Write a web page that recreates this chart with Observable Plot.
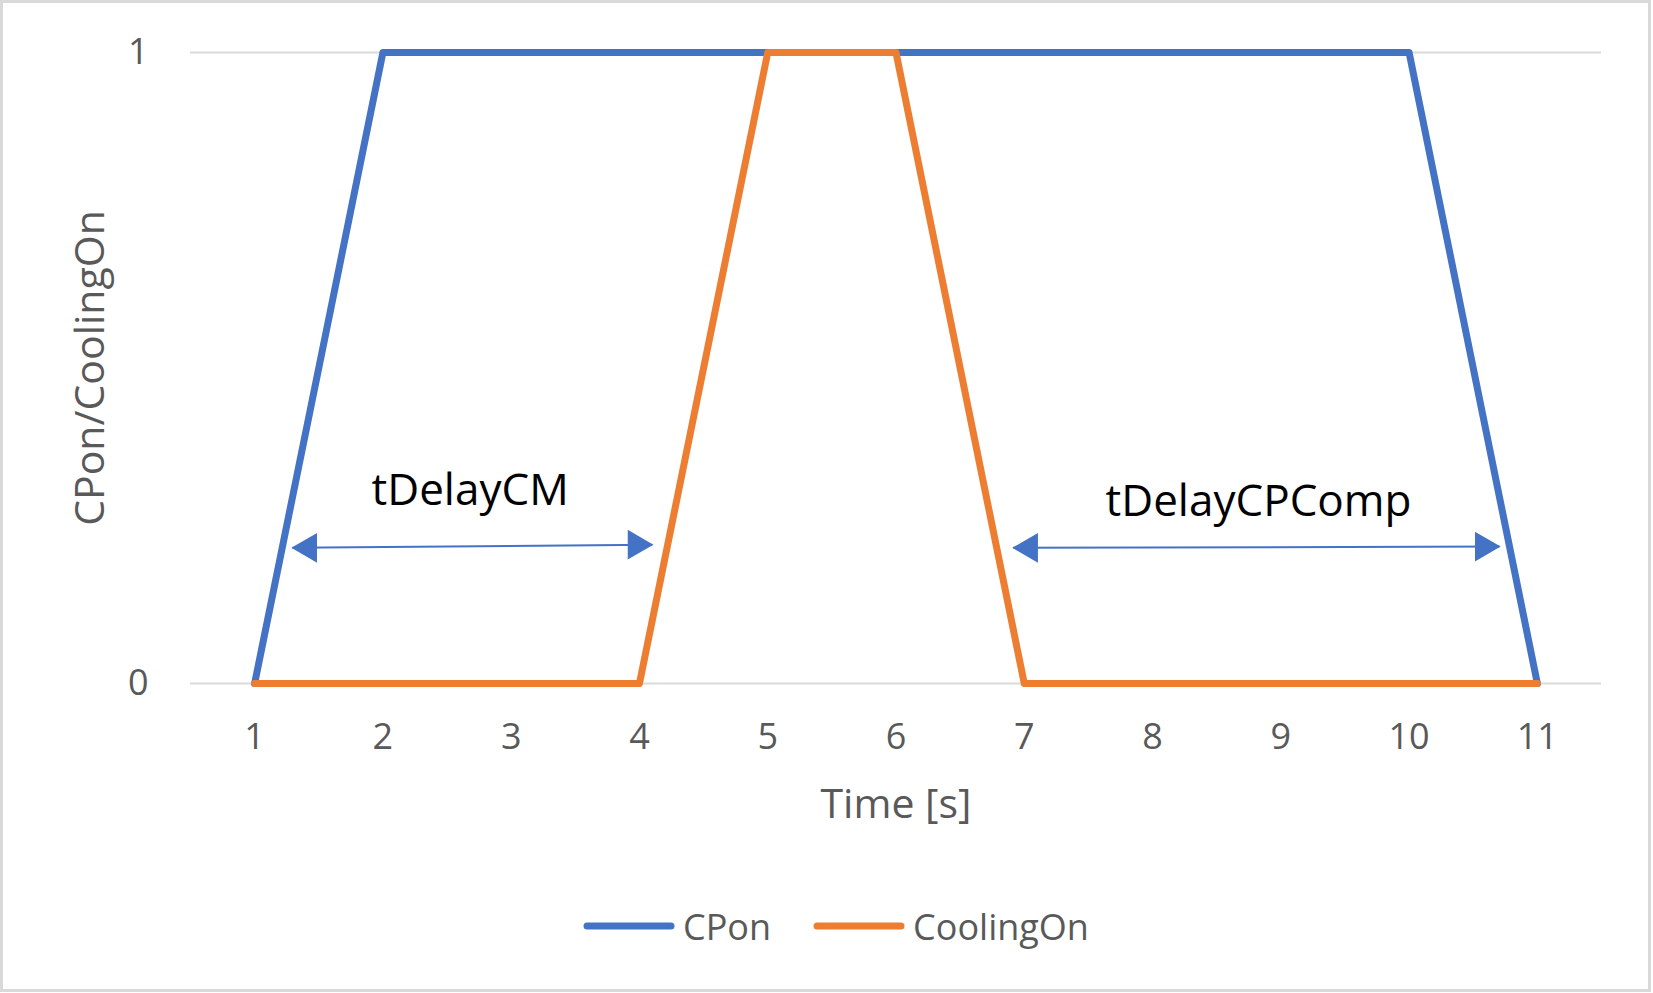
<!DOCTYPE html>
<html><head><meta charset="utf-8">
<script src="https://cdn.jsdelivr.net/npm/d3@7"></script>
<script src="https://cdn.jsdelivr.net/npm/@observablehq/plot@0.6"></script>
<style>
html,body{margin:0;padding:0;background:#fff;}
#wrap{position:relative;width:1651px;height:992px;box-sizing:border-box;border:3px solid #d9d9d9;background:#fff;font-family:"Open Sans",sans-serif;overflow:hidden;}
#legend{position:absolute;left:580px;top:898px;height:50px;display:flex;align-items:center;font-size:36px;color:#595959;white-space:nowrap;}
.item{display:flex;align-items:center;}
.item svg{margin-right:8px;}
.item + .item{margin-left:42px;}
</style></head>
<body>
<div id="wrap"><div id="chart"></div><div id="legend"></div></div>
<script>
// ---- data ----
const times = [1, 2, 3, 4, 5, 6, 7, 8, 9, 10, 11];
const cpon = [0, 1, 1, 1, 1, 1, 1, 1, 1, 1, 0];
const coolingOn = [0, 0, 0, 0, 1, 1, 0, 0, 0, 0, 0];
const seriesNames = ["CPon", "CoolingOn"];
const seriesColors = ["#4472C4", "#ED7D31"];
const xTicks = [1, 2, 3, 4, 5, 6, 7, 8, 9, 10, 11];
const yTicks = [0, 1];
const xTitle = "Time [s]";
const yTitle = "CPon/CoolingOn";
// annotation arrows (data units)
const arrowX1 = [1.295, 6.915];
const arrowY1 = [0.215, 0.215];
const arrowX2 = [4.10, 10.705];
const arrowY2 = [0.220, 0.217];
const annoText = ["tDelayCM", "tDelayCPComp"];
const annoX = [2.68, 8.826];
const annoY = [0.305, 0.287];

const lineData = [];
times.forEach((t, i) => lineData.push({time: t, value: cpon[i], series: seriesNames[0]}));
times.forEach((t, i) => lineData.push({time: t, value: coolingOn[i], series: seriesNames[1]}));
const arrows = arrowX1.map((x1, i) => ({x1, y1: arrowY1[i], x2: arrowX2[i], y2: arrowY2[i]}));
const annos = annoText.map((t, i) => ({text: t, x: annoX[i], y: annoY[i]}));

const chart = Plot.plot({
  width: 1645, height: 870,
  marginLeft: 187, marginRight: 47, marginTop: 49, marginBottom: 190,
  style: {fontFamily: "'Open Sans', sans-serif", background: "transparent", overflow: "visible"},
  x: {type: "linear", domain: [0.5, 11.5]},
  y: {domain: [0, 1]},
  color: {domain: seriesNames, range: seriesColors},
  marks: [
    Plot.ruleY(yTicks, {stroke: "#d9d9d9", strokeWidth: 2}),
    Plot.axisX({ticks: xTicks, tickSize: 0, tickPadding: 40, fontSize: 36, fill: "#595959", label: null, tickFormat: d => String(d)}),
    Plot.axisY({ticks: yTicks, tickSize: 0, tickPadding: 42, fontSize: 36, fill: "#595959", label: null, tickFormat: d => String(d)}),
    Plot.text([xTitle], {text: d => d, frameAnchor: "bottom", dy: 134, fontSize: 41, fill: "#595959"}),
    Plot.text([yTitle], {text: d => d, frameAnchor: "left", textAnchor: "middle", dx: -100, rotate: -90, fontSize: 41, fill: "#595959"}),
    Plot.line(lineData, {x: "time", y: "value", z: "series", stroke: "series", strokeWidth: 7, strokeLinecap: "round", strokeLinejoin: "round"}),
    Plot.link(arrows, {x1: "x1", y1: "y1", x2: "x2", y2: "y2", stroke: "#4472C4", strokeWidth: 2}),
    Plot.dot(arrows, {x: "x1", y: "y1", symbol: "triangle", r: 11, fill: "#4472C4", stroke: null, rotate: -90, dx: 16}),
    Plot.dot(arrows, {x: "x2", y: "y2", symbol: "triangle", r: 11, fill: "#4472C4", stroke: null, rotate: 90, dx: -16}),
    Plot.text(annos, {x: "x", y: "y", text: "text", fontSize: 44, fill: "#000000"})
  ]
});
document.getElementById("chart").appendChild(chart);

// legend
const legend = document.getElementById("legend");
seriesNames.forEach((name, i) => {
  const item = document.createElement("div");
  item.className = "item";
  item.innerHTML = `<svg width="92" height="12"><line x1="4" y1="6" x2="88" y2="6" stroke="${seriesColors[i]}" stroke-width="7" stroke-linecap="round"/></svg><span>${name}</span>`;
  legend.appendChild(item);
});
</script>
</body></html>
